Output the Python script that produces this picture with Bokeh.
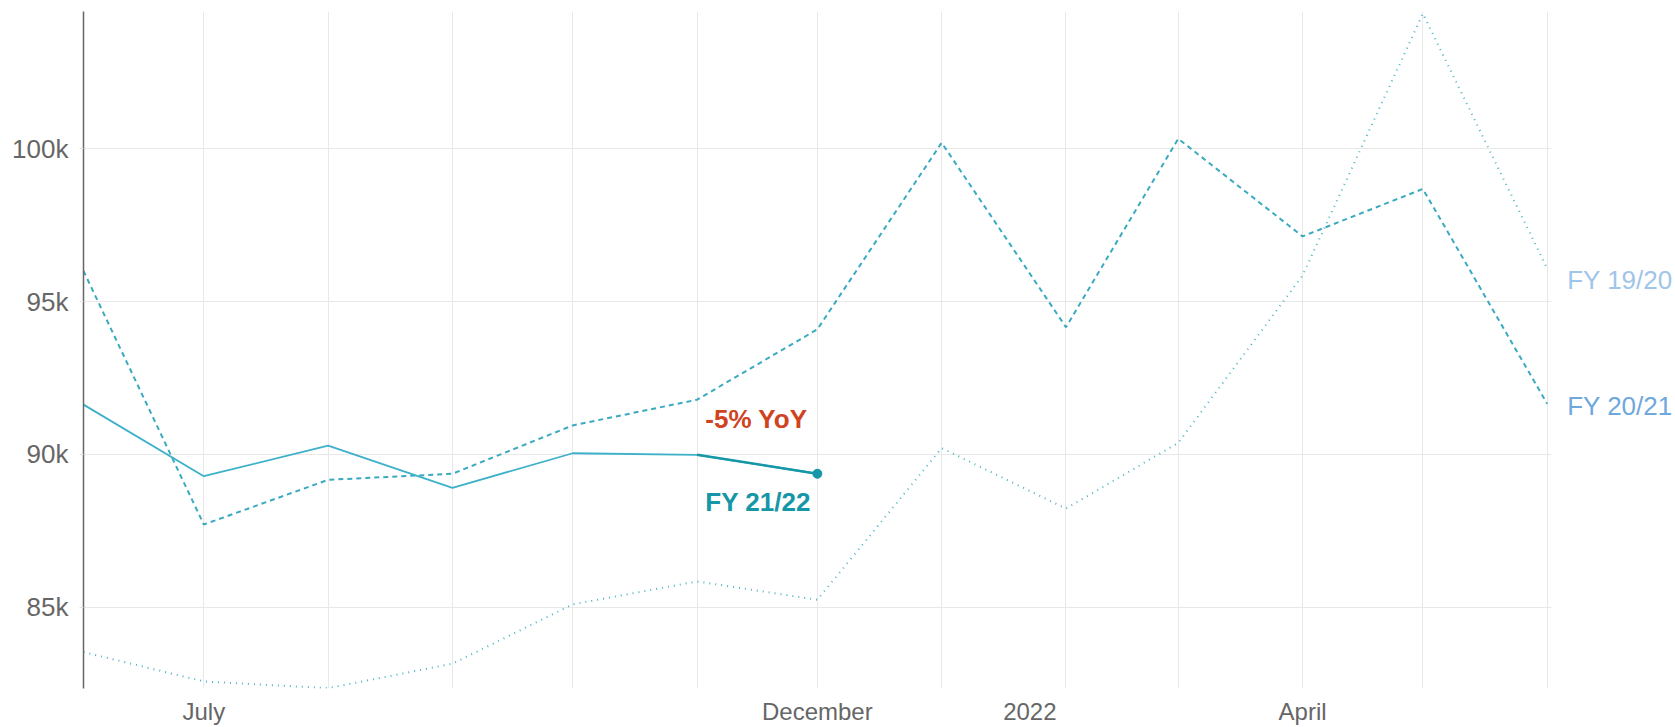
from datetime import datetime, timedelta
from bokeh.plotting import figure
from bokeh.models import Range1d, FixedTicker, Label
from bokeh.embed import file_html
from bokeh.resources import INLINE

# ---- data ----
month_starts = ["2021-06-01", "2021-07-01", "2021-08-01", "2021-09-01", "2021-10-01",
                "2021-11-01", "2021-12-01", "2022-01-01", "2022-02-01", "2022-03-01",
                "2022-04-01", "2022-05-01", "2022-06-01"]
fy2122 = [91630, 89290, 90290, 88910, 90040, 89990, 89370]
fy2021 = [96000, 87710, 89170, 89370, 90950, 91790, 94090, 100190, 94160, 100320,
          97130, 98680, 91660]
fy1920 = [83540, 82580, 82360, 83160, 85100, 85850, 85250, 90210, 88230, 90380,
          95850, 104410, 96080]
series_names = ["FY 19/20", "FY 20/21", "FY 21/22"]
annotation_text = "-5% YoY"
y_ticks = [85000, 90000, 95000, 100000]
y_tick_labels = ["85k", "90k", "95k", "100k"]
x_label_dates = ["2021-07-01", "2021-12-01", "2022-01-23", "2022-04-01"]
x_tick_labels = ["July", "December", "2022", "April"]

# ---- helpers ----
EPOCH = datetime(1970, 1, 1)


def to_dt(s):
    return datetime.strptime(s, "%Y-%m-%d")


def to_ms(d):
    return int((d - EPOCH).total_seconds() * 1000)


dates = [to_dt(s) for s in month_starts]
month_ms = [to_ms(d) for d in dates]
label_ms = [to_ms(to_dt(s)) for s in x_label_dates]

FONT = "Liberation Sans"

# room on the right of the last month for the series labels
x_end = dates[-1] + timedelta(days=32)

p = figure(width=1675, height=727, x_axis_type="datetime",
           x_range=Range1d(dates[0], x_end),
           y_range=Range1d(82350, 104480),
           output_backend="svg", toolbar_location=None,
           min_border_left=83, min_border_right=0,
           min_border_top=11, min_border_bottom=39)
p.outline_line_color = None
p.background_fill_color = "white"
p.border_fill_color = "white"

# x axis
p.xaxis.ticker = FixedTicker(ticks=label_ms)
p.xaxis.major_label_overrides = {ms: lab for ms, lab in zip(label_ms, x_tick_labels)}
p.xaxis.axis_line_color = None
p.xaxis.major_tick_line_color = None
p.xaxis.minor_tick_line_color = None
p.xaxis.major_label_text_font = FONT
p.xaxis.major_label_text_font_size = "24px"
p.xaxis.major_label_text_color = "#666666"
p.xaxis.major_label_standoff = 3

# y axis
p.yaxis.ticker = FixedTicker(ticks=y_ticks)
p.yaxis.major_label_overrides = {t: lab for t, lab in zip(y_ticks, y_tick_labels)}
p.yaxis.axis_line_color = "#666666"
p.yaxis.axis_line_width = 1.5
p.yaxis.major_tick_line_color = "#e3e3e3"
p.yaxis.major_tick_out = 4
p.yaxis.major_tick_in = 0
p.yaxis.minor_tick_line_color = None
p.yaxis.major_label_text_font = FONT
p.yaxis.major_label_text_font_size = "26px"
p.yaxis.major_label_text_color = "#666666"
p.yaxis.major_label_standoff = 11

# grids
p.xgrid.ticker = FixedTicker(ticks=month_ms)
p.xgrid.grid_line_color = "#e8e8e8"
p.xgrid.grid_line_width = 1
p.ygrid.grid_line_color = "#e8e8e8"
p.ygrid.grid_line_width = 1
yg = p.ygrid[0]
if "cross_bounds" in yg.properties():
    yg.cross_bounds = (month_ms[0], month_ms[-1] + 1 * 86400000)

# lines
p.line(dates, fy1920, line_color="#4db4c6", line_width=2, line_dash="1 5")
p.line(dates, fy2021, line_color="#3aaac0", line_width=2, line_dash="5 4")
n = len(fy2122)
p.line(dates[:n], fy2122, line_color="#3db1c9", line_width=1.8)
p.line(dates[n - 2:n], fy2122[n - 2:n], line_color="#1597a7", line_width=2.5)
p.scatter(dates[n - 1:n], fy2122[n - 1:n], size=9, color="#1597a7")

# labels
p.add_layout(Label(x=dates[-1], y=fy1920[-1], text=series_names[0],
                   x_offset=20, y_offset=-12, text_baseline="middle", text_align="left",
                   text_font=FONT, text_font_size="26px", text_color="#9fc5e8"))
p.add_layout(Label(x=dates[-1], y=fy2021[-1], text=series_names[1],
                   x_offset=20, y_offset=-2, text_baseline="middle", text_align="left",
                   text_font=FONT, text_font_size="26px", text_color="#6fa8dc"))
p.add_layout(Label(x=dates[n - 1], y=fy2122[-1], text=annotation_text,
                   x_offset=-112, y_offset=55, text_baseline="middle", text_align="left",
                   text_font=FONT, text_font_size="26px", text_font_style="bold",
                   text_color="#d0431f"))
p.add_layout(Label(x=dates[n - 1], y=fy2122[-1], text=series_names[2],
                   x_offset=-112, y_offset=-28, text_baseline="middle", text_align="left",
                   text_font=FONT, text_font_size="26px", text_font_style="bold",
                   text_color="#1597a7"))

open("out.html", "w").write(file_html(p, INLINE))
